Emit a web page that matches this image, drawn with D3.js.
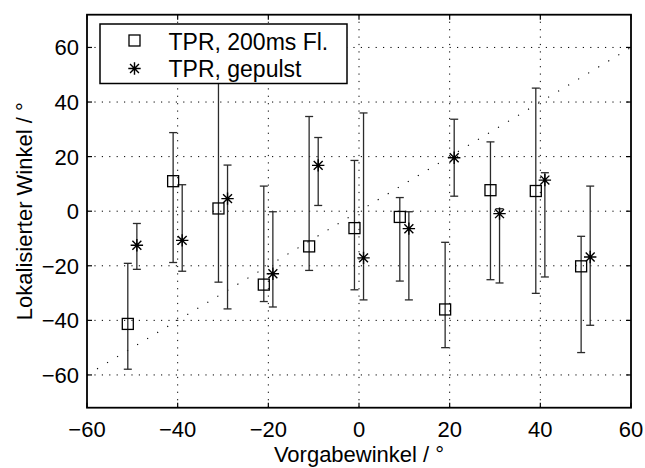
<!DOCTYPE html>
<html>
<head>
<meta charset="utf-8">
<script src="https://cdn.jsdelivr.net/npm/d3@7"></script>
<style>
html,body{margin:0;padding:0;background:#fff;}
svg{display:block;}
text{font-family:"Liberation Sans",Arial,Helvetica,sans-serif;fill:#000;}
</style>
</head>
<body>
<script>
// ---- data ----
const targets = [-50, -40, -30, -20, -10, 0, 10, 20, 30, 40, 50];
const flMean  = [-41.3, 11.0, 1.0, -26.9, -12.9, -6.2, -2.1, -36.0, 7.7, 7.4, -20.2];
const flUpper = [-19.1, 28.8, 58.0, 9.2, 34.7, 18.6, 5.0, -11.4, 25.4, 45.1, -9.2];
const flLower = [-57.9, -18.8, -26.0, -33.1, -21.7, -28.8, -25.6, -50.0, -25.1, -30.1, -51.8];
const puMean  = [-12.5, -10.7, 4.6, -22.9, 16.8, -17.1, -6.4, 19.6, -0.9, 11.4, -16.8];
const puUpper = [-4.5, 9.7, 16.9, -0.2, 27.0, 36.0, -0.2, 33.7, 0.9, 14.1, 9.2];
const puLower = [-21.3, -22.0, -35.8, -35.1, 2.1, -32.5, -32.5, 5.5, -26.3, -24.1, -41.8];
const xTicks = [-60, -40, -20, 0, 20, 40, 60];
const yTicks = [-60, -40, -20, 0, 20, 40, 60];
const legendLabels = ["TPR, 200ms Fl.", "TPR, gepulst"];
const xLabel = "Vorgabewinkel / °";
const yLabel = "Lokalisierter Winkel / °";

const W = 645, H = 468;
const L = 87, R = 631, T = 14.7, B = 407.7;
const fs = 22, lfs = 23;

const svg = d3.select("body").append("svg").attr("width", W).attr("height", H);
const x = d3.scaleLinear().domain([-60, 60]).range([L, R]);
const y = d3.scaleLinear().domain([-72, 72]).range([B, T]);

// grid
const grid = svg.append("g").attr("stroke", "#000").attr("stroke-width", 1)
  .attr("stroke-dasharray", "1.2,6.2");
xTicks.filter(t => t > -60 && t < 60).forEach(t => {
  grid.append("line").attr("x1", x(t)).attr("x2", x(t)).attr("y1", B).attr("y2", T);
});
yTicks.forEach(t => {
  grid.append("line").attr("x1", L).attr("x2", R).attr("y1", y(t)).attr("y2", y(t));
});

// diagonal
svg.append("line").attr("x1", x(-60)).attr("y1", y(-60)).attr("x2", x(60)).attr("y2", y(60))
  .attr("stroke", "#000").attr("stroke-width", 1.1).attr("stroke-dasharray", "1.2,10.5");

// error bars
function errorBars(off, means, ups, lows) {
  const g = svg.append("g").attr("stroke", "#2b2b2b").attr("stroke-width", 1.3).attr("fill", "none");
  targets.forEach((t, i) => {
    const cx = x(t + off);
    g.append("line").attr("x1", cx).attr("x2", cx).attr("y1", y(ups[i])).attr("y2", y(lows[i]));
    g.append("line").attr("x1", cx - 4).attr("x2", cx + 4).attr("y1", y(ups[i])).attr("y2", y(ups[i]));
    g.append("line").attr("x1", cx - 4).attr("x2", cx + 4).attr("y1", y(lows[i])).attr("y2", y(lows[i]));
  });
}
errorBars(-1, flMean, flUpper, flLower);
errorBars(1, puMean, puUpper, puLower);

function square(g, cx, cy) {
  g.append("rect").attr("x", cx - 5.5).attr("y", cy - 5.5).attr("width", 11).attr("height", 11)
    .attr("fill", "none").attr("stroke", "#000").attr("stroke-width", 1.3);
}
function star(g, cx, cy) {
  const r = 6.2, d = r * 0.72;
  const p = `M${cx},${cy - r}V${cy + r}M${cx - r},${cy}H${cx + r}M${cx - d},${cy - d}L${cx + d},${cy + d}M${cx - d},${cy + d}L${cx + d},${cy - d}`;
  g.append("path").attr("d", p).attr("stroke", "#000").attr("stroke-width", 1.4).attr("fill", "none");
}
const mk = svg.append("g");
targets.forEach((t, i) => square(mk, x(t - 1), y(flMean[i])));
targets.forEach((t, i) => star(mk, x(t + 1), y(puMean[i])));

// frame
svg.append("rect").attr("x", L).attr("y", T).attr("width", R - L).attr("height", B - T)
  .attr("fill", "none").attr("stroke", "#000").attr("stroke-width", 1.8);

// ticks (inside, on all sides)
const tk = svg.append("g").attr("stroke", "#000").attr("stroke-width", 1.2);
xTicks.forEach(t => {
  tk.append("line").attr("x1", x(t)).attr("x2", x(t)).attr("y1", B).attr("y2", B - 5);
  tk.append("line").attr("x1", x(t)).attr("x2", x(t)).attr("y1", T).attr("y2", T + 5);
});
yTicks.forEach(t => {
  tk.append("line").attr("x1", L).attr("x2", L + 5).attr("y1", y(t)).attr("y2", y(t));
  tk.append("line").attr("x1", R).attr("x2", R - 5).attr("y1", y(t)).attr("y2", y(t));
});

// tick labels
const fmt = d3.format("d");
xTicks.forEach(t => {
  svg.append("text").attr("x", x(t)).attr("y", 437).attr("text-anchor", "middle")
    .attr("font-size", fs).text(fmt(t));
});
yTicks.forEach(t => {
  svg.append("text").attr("x", 79).attr("y", y(t) + 8).attr("text-anchor", "end")
    .attr("font-size", fs).text(fmt(t));
});

// axis labels
svg.append("text").attr("x", (L + R) / 2).attr("y", 461.5).attr("text-anchor", "middle")
  .attr("font-size", fs).text(xLabel);
svg.append("text").attr("transform", `translate(32,${(T + B) / 2}) rotate(-90)`)
  .attr("text-anchor", "middle").attr("font-size", fs).text(yLabel);

// legend
const lg = svg.append("g");
lg.append("rect").attr("x", 100).attr("y", 24).attr("width", 247).attr("height", 59.5)
  .attr("fill", "#fff").attr("stroke", "#000").attr("stroke-width", 1.5);
square(lg, 134.5, 40.5);
star(lg, 134.5, 68.5);
lg.append("text").attr("x", 168.5).attr("y", 49.8).attr("font-size", lfs).text(legendLabels[0]);
lg.append("text").attr("x", 168.5).attr("y", 76.5).attr("font-size", lfs).text(legendLabels[1]);
</script>
</body>
</html>
